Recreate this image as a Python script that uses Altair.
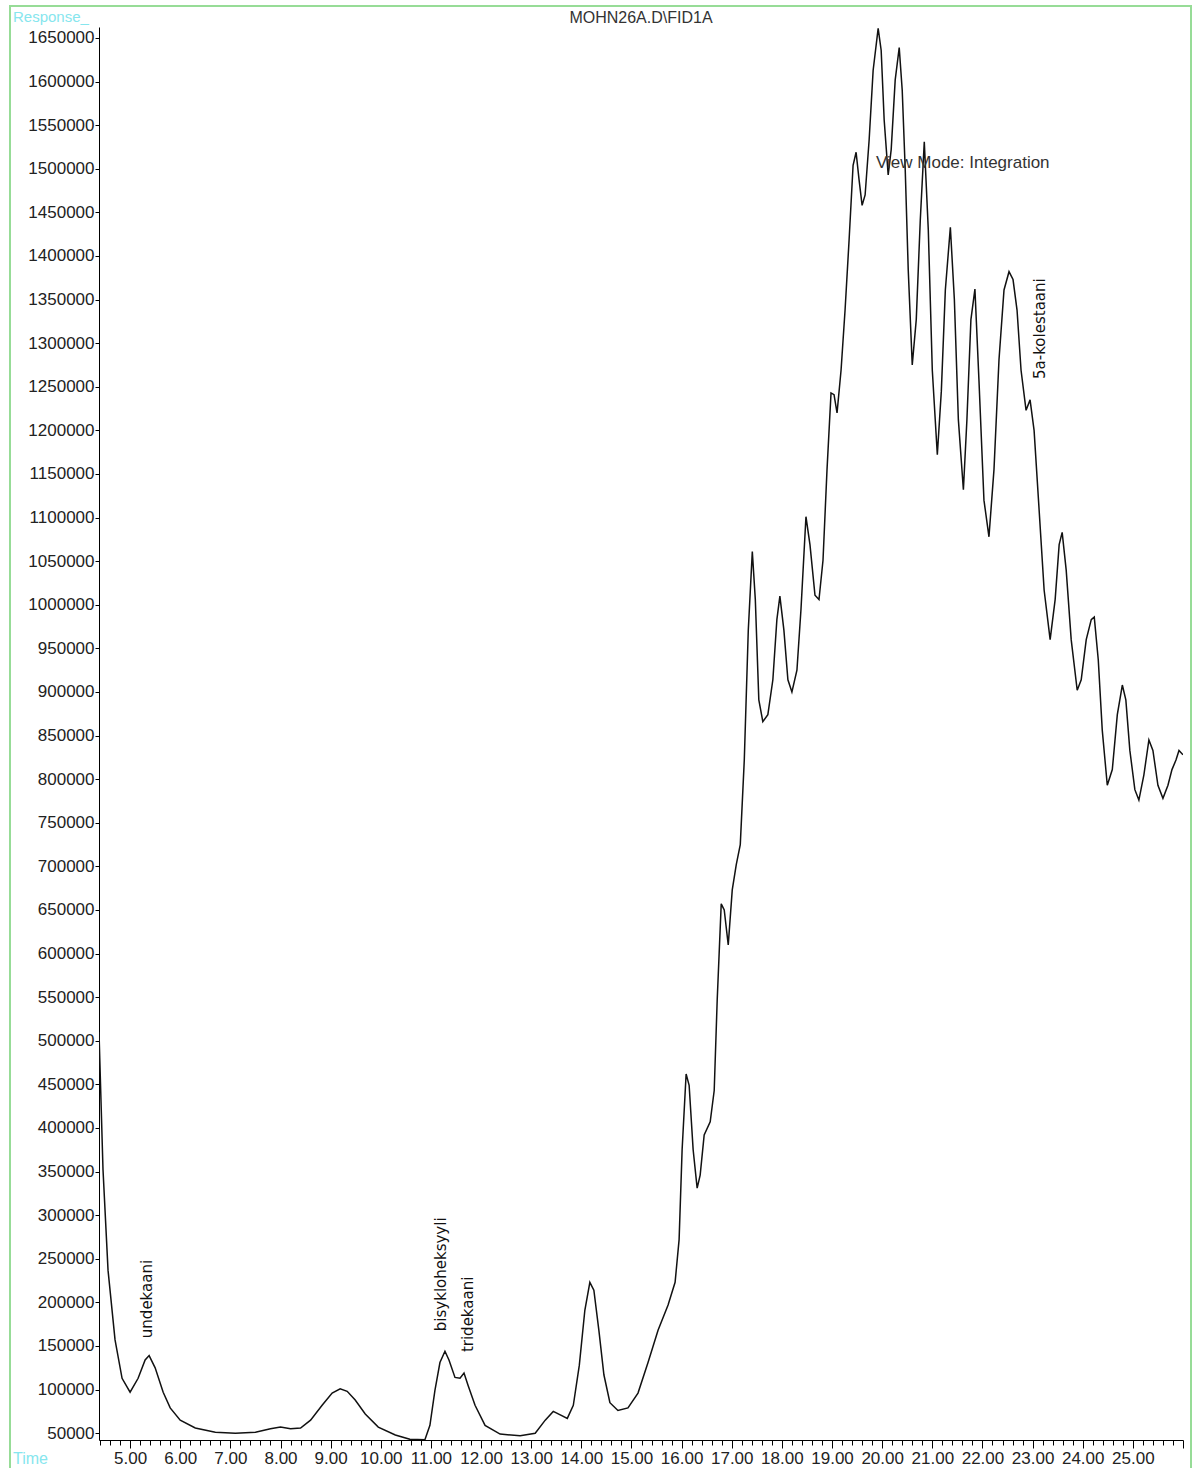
import altair as alt
import pandas as pd

# ---- chromatogram trace (retention time in min, detector response) ----
time = [
    4.38, 4.46, 4.56, 4.70, 4.84, 5.00, 5.16, 5.30, 5.38, 5.50, 5.66, 5.80, 6.00, 6.30, 6.70,
    7.10, 7.50, 7.80, 8.00, 8.20, 8.40, 8.60, 8.83, 9.03, 9.19, 9.33, 9.49, 9.69, 9.95, 10.29,
    10.58, 10.88, 10.98, 11.08, 11.18, 11.28, 11.36, 11.48, 11.58, 11.66, 11.74, 11.88, 12.08,
    12.38, 12.78, 13.08, 13.28, 13.44, 13.58, 13.72, 13.84, 13.96, 14.07, 14.17, 14.25, 14.35,
    14.45, 14.57, 14.73, 14.93, 15.13, 15.33, 15.53, 15.73, 15.87, 15.95, 16.01, 16.09, 16.15,
    16.23, 16.31, 16.37, 16.45, 16.57, 16.65, 16.71, 16.79, 16.85, 16.93, 17.01, 17.09, 17.17,
    17.25, 17.33, 17.41, 17.47, 17.54, 17.62, 17.72, 17.82, 17.90, 17.96, 18.04, 18.12, 18.20,
    18.30, 18.38, 18.48, 18.56, 18.66, 18.74, 18.82, 18.90, 18.98, 19.04, 19.10, 19.18, 19.26,
    19.34, 19.42, 19.48, 19.54, 19.60, 19.66, 19.74, 19.82, 19.92, 19.98, 20.04, 20.12, 20.18,
    20.26, 20.34, 20.40, 20.46, 20.52, 20.60, 20.68, 20.76, 20.84, 20.92, 21.00, 21.10, 21.18,
    21.26, 21.36, 21.44, 21.52, 21.62, 21.69, 21.77, 21.85, 21.93, 22.03, 22.13, 22.23, 22.33,
    22.43, 22.53, 22.61, 22.69, 22.77, 22.87, 22.95, 23.03, 23.13, 23.23, 23.35, 23.45, 23.53,
    23.59, 23.67, 23.77, 23.89, 23.97, 24.07, 24.17, 24.23, 24.31, 24.39, 24.49, 24.59, 24.69,
    24.79, 24.86, 24.94, 25.04, 25.12, 25.22, 25.32, 25.40, 25.50, 25.60, 25.70, 25.78, 25.86,
    25.92, 26.00,
]
response = [
    510000, 352000, 237000, 157000, 113000, 97000, 113000, 134000, 139000, 125000, 97000, 79000,
    65000, 56000, 51000, 50000, 51000, 55000, 57000, 55000, 56000, 65000, 82000, 96000, 101000,
    98000, 88000, 72000, 57000, 48000, 43000, 42500, 59000, 99000, 131000, 144000, 134000,
    114000, 113000, 119000, 105000, 82000, 59000, 49000, 47000, 50000, 65000, 75000, 71000,
    67000, 82000, 128000, 191000, 223000, 214000, 168000, 117000, 85000, 76000, 79000, 96000,
    131000, 168000, 197000, 223000, 272000, 375000, 462000, 449000, 375000, 331000, 346000,
    392000, 407000, 443000, 547000, 657000, 650000, 610000, 673000, 702000, 725000, 822000,
    971000, 1061000, 1006000, 891000, 866000, 874000, 914000, 983000, 1010000, 971000, 914000,
    900000, 925000, 994000, 1101000, 1069000, 1011000, 1006000, 1051000, 1155000, 1243000,
    1241000, 1220000, 1269000, 1338000, 1418000, 1504000, 1519000, 1487000, 1458000, 1470000,
    1533000, 1613000, 1661000, 1636000, 1556000, 1493000, 1522000, 1602000, 1639000, 1590000,
    1499000, 1384000, 1275000, 1327000, 1441000, 1531000, 1430000, 1269000, 1172000, 1245000,
    1361000, 1433000, 1350000, 1212000, 1132000, 1212000, 1327000, 1362000, 1258000, 1120000,
    1078000, 1155000, 1281000, 1361000, 1382000, 1373000, 1338000, 1269000, 1223000, 1235000,
    1200000, 1109000, 1017000, 960000, 1006000, 1069000, 1083000, 1040000, 960000, 902000,
    914000, 960000, 983000, 986000, 937000, 856000, 793000, 811000, 874000, 908000, 891000,
    833000, 788000, 776000, 805000, 845000, 833000, 793000, 778000, 793000, 811000, 822000,
    833000, 828000,
]

# ---- peak annotations ----
peak_names = ["undekaani", "bisykloheksyyli", "tridekaani", "5a-kolestaani"]
peak_time = [5.34, 11.21, 11.74, 23.15]
peak_resp = [159000, 167000, 143000, 1259000]

# ---- axis ticks ----
x_ticks = [round(4.4 + 0.2 * i, 1) for i in range(109)]
y_ticks = list(range(50000, 1650001, 50000))

title_text = "MOHN26A.D\\FID1A"
y_title = "Response_"
x_title = "Time"
mode_text = "View Mode: Integration"

W, H = 1084, 1413
PAD = {"left": 99, "top": 27, "right": 14, "bottom": 28}
LABEL_FONT = "Liberation Sans"

df = pd.DataFrame({"time": time, "response": response})
ann = pd.DataFrame({"time": peak_time, "response": peak_resp, "name": peak_names})

x_scale = alt.Scale(domain=[4.38, 26.0], nice=False, zero=False)
y_scale = alt.Scale(domain=[42200, 1662600], nice=False, zero=False)

is_major = "abs(datum.value - round(datum.value)) < 0.01"

x_axis = alt.Axis(
    values=x_ticks,
    labelExpr=f"({is_major}) && datum.value < 25.5 ? format(datum.value, '.2f') : ''",
    tickSize={"condition": {"test": is_major, "value": 8}, "value": 5},
    tickColor="black",
    tickWidth=1,
    domainColor="black",
    domainWidth=1,
    grid=False,
    title=None,
    labelFont=LABEL_FONT,
    labelFontSize=17,
    labelColor="#222222",
    labelPadding=2,
    labelOverlap=False,
    labelFlush=False,
    labelBound=False,
)
y_axis = alt.Axis(
    values=y_ticks,
    format="d",
    tickSize=4,
    tickColor="black",
    domainColor="black",
    domainWidth=1,
    grid=False,
    title=None,
    labelFont=LABEL_FONT,
    labelFontSize=17,
    labelColor="#222222",
    labelPadding=1,
    labelOverlap=False,
    labelFlush=False,
    labelBound=False,
)

line = alt.Chart(df).mark_line(color="#111111", strokeWidth=1.5, clip=True).encode(
    x=alt.X("time:Q", scale=x_scale, axis=x_axis),
    y=alt.Y("response:Q", scale=y_scale, axis=y_axis),
)

labels = alt.Chart(ann).mark_text(
    angle=270, align="left", baseline="middle", font="DejaVu Sans", fontSize=15, color="#111111"
).encode(
    x=alt.X("time:Q", scale=x_scale, axis=x_axis),
    y=alt.Y("response:Q", scale=y_scale, axis=y_axis),
    text="name:N",
)

one = pd.DataFrame({"k": [0]})

frame = alt.Chart(one).mark_rect(fillOpacity=0, stroke="#97dc97", strokeWidth=2).encode(
    x=alt.value(-89), x2=alt.value(1092), y=alt.value(-21), y2=alt.value(1450)
)

def overlay_text(txt, px, py, size, color, align="left"):
    return alt.Chart(pd.DataFrame({"t": [txt]})).mark_text(
        align=align, baseline="alphabetic", font=LABEL_FONT, fontSize=size, color=color
    ).encode(x=alt.value(px), y=alt.value(py), text="t:N")

title_mark = overlay_text(title_text, 542, -4, 16, "#333333", align="center")
resp_mark = overlay_text(y_title, -86, -5, 15, "#86e6ee")
time_mark = overlay_text(x_title, -86, 1437, 16, "#86e6ee")
mode_mark = overlay_text(mode_text, 777, 141, 17, "#333333")

chart = alt.layer(frame, line, labels, title_mark, resp_mark, time_mark, mode_mark).properties(
    width=W,
    height=H,
    autosize=alt.AutoSizeParams(type="none"),
    padding=PAD,
    background="white",
).configure_view(stroke=None)

chart.save("out.html", embed_options={"renderer": "svg", "actions": False})
